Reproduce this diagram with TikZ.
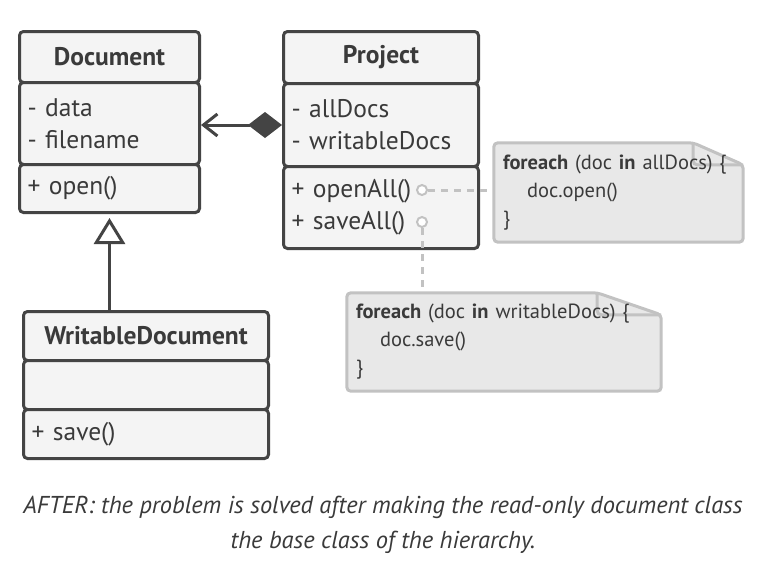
\documentclass[tikz,border=0pt]{standalone}
\usepackage{fontspec}
\setmainfont{PT Sans}
\usepackage{tikz}
\usetikzlibrary{positioning,arrows.meta,calc,backgrounds}

\definecolor{boxline}{HTML}{444444}
\definecolor{boxfill}{HTML}{F4F4F4}
\definecolor{notefill}{HTML}{E8E8E8}
\definecolor{noteline}{HTML}{C2C2C2}
\definecolor{ink}{HTML}{3A3A3A}

\tikzset{
    part/.style={draw=boxline, fill=boxfill, line width=3pt, rounded corners=4pt,
        inner xsep=8pt, inner ysep=0pt, anchor=north west, text=ink,
        font=\fontsize{25.5}{32}\selectfont},
    classname/.style={part, align=center, font=\fontsize{25.5}{32}\selectfont\bfseries},
    members/.style={part, align=left},
    note/.style={inner xsep=9pt, inner ysep=0pt, align=left, text=ink,
        font=\fontsize{20.5}{28}\selectfont},
    noteedge/.style={draw=noteline, fill=notefill, line width=3pt, rounded corners=4pt},
    hook/.style={circle, draw=noteline, fill=white, line width=2pt, minimum size=10pt, inner sep=0pt},
    hookline/.style={draw=noteline, line width=3pt, dash pattern=on 7pt off 6pt},
    uml/.style={draw=boxline, line width=3pt},
}

\begin{document}
\begin{tikzpicture}[x=1pt,y=-1pt]
                \useasboundingbox (0,0) rectangle (766,582);
                \node[classname, text width=164pt, minimum height=51pt] (doc-name) at (18,30) {Document};
                \node[members, text width=164pt, minimum height=82pt] (doc-attr) at (18,81) {- data\\- filename};
                \node[members, text width=164pt, minimum height=48pt] (doc-ops) at (18,163) {+ open()};
                \node[classname, text width=179pt, minimum height=52pt] (proj-name) at (282,30) {Project};
                \node[members, text width=179pt, minimum height=83pt] (proj-attr) at (282,82) {- allDocs\\- writableDocs};
                \node[members, text width=179pt, minimum height=82pt] (proj-ops) at (282,165) {+ openAll()\\+ saveAll()};
                \node[classname, text width=229pt, minimum height=49pt] (wdoc-name) at (22,310) {WritableDocument};
                \node[members, text width=229pt, minimum height=49pt] (wdoc-attr) at (22,359) {};
                \node[members, text width=229pt, minimum height=49pt] (wdoc-ops) at (22,408) {+ save()};
                \node[note, text width=231pt, minimum height=99pt] (open-note) at (618.5,192.5)
                    {\textbf{foreach} (doc \textbf{in} allDocs) \{\\\hspace*{24pt}doc.open()\\\}};
                \node[note, text width=296pt, minimum height=98pt] (save-note) at (504,342)
                    {\textbf{foreach} (doc \textbf{in} writableDocs) \{\\\hspace*{24pt}doc.save()\\\}};
                \begin{scope}[on background layer]
                    \fill[white] (0,0) rectangle (766,582);
                    \draw[noteedge] (open-note.north west) -- ([xshift=-50pt]open-note.north east)
                        -- ([yshift=-22pt]open-note.north east) -- (open-note.south east)
                        -- (open-note.south west) -- cycle;
                    \draw[noteedge, fill=none] ([xshift=-50pt]open-note.north east) |- ([yshift=-22pt]open-note.north east);
                    \draw[noteedge] (save-note.north west) -- ([xshift=-64pt]save-note.north east)
                        -- ([yshift=-22pt]save-note.north east) -- (save-note.south east)
                        -- (save-note.south west) -- cycle;
                    \draw[noteedge, fill=none] ([xshift=-64pt]save-note.north east) |- ([yshift=-22pt]save-note.north east);
                \end{scope}
                \node[hook] (open-hook) at (422,190) {};
                \node[hook] (save-hook) at (422,222) {};
                \draw[hookline] (open-hook) -- (open-hook -| open-note.west);
                \draw[hookline] (save-hook) -- (save-hook |- save-note.north);
                \draw[uml, {Diamond[length=34pt,width=26pt]}-{Straight Barb[length=14pt,width=22pt]}]
                    (proj-attr.west) -- (proj-attr.west -| doc-attr.east);
                \draw[uml, -{Triangle[length=26pt,width=31pt,fill=white]}, shorten >=4pt]
                    (wdoc-name.north -| doc-ops.south) -- (doc-ops.south);
                \node[align=center, text=ink, font=\fontsize{24.4}{35}\selectfont\itshape] (caption) at (383,525)
                    {AFTER: the problem is solved after making the read-only document class\\the base class of the hierarchy.};
            \end{tikzpicture}
\end{document}
